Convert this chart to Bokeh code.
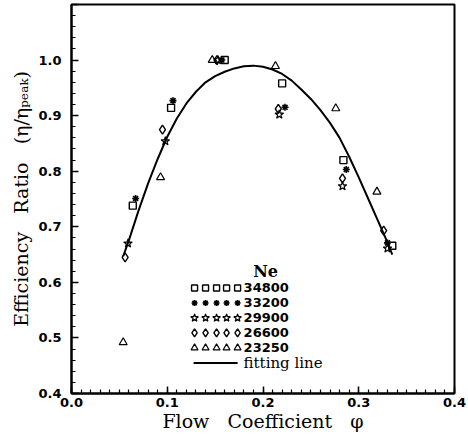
from bokeh.plotting import figure
from bokeh.models import Range1d, SingleIntervalTicker
from bokeh.core.properties import value
from bokeh.embed import file_html
from bokeh.resources import INLINE

# ---- data ----
ne_labels = ["34800", "33200", "29900", "26600", "23250"]
markers = ["square", "asterisk", "star", "diamond", "triangle"]

phi_34800 = [0.064, 0.104, 0.160, 0.220, 0.284, 0.335]
eff_34800 = [0.738, 0.914, 1.000, 0.958, 0.820, 0.666]
phi_33200 = [0.067, 0.106, 0.157, 0.223, 0.287, 0.330]
eff_33200 = [0.751, 0.927, 1.000, 0.915, 0.803, 0.671]
phi_29900 = [0.059, 0.098, 0.153, 0.217, 0.283, 0.330]
eff_29900 = [0.670, 0.854, 1.000, 0.902, 0.773, 0.661]
phi_26600 = [0.056, 0.095, 0.152, 0.216, 0.283, 0.326]
eff_26600 = [0.645, 0.875, 1.000, 0.912, 0.787, 0.693]
phi_23250 = [0.054, 0.093, 0.147, 0.213, 0.276, 0.319]
eff_23250 = [0.492, 0.789, 1.000, 0.989, 0.913, 0.763]

fit_phi = [0.054, 0.060, 0.070, 0.080, 0.090, 0.100, 0.110, 0.120, 0.130,
           0.140, 0.150, 0.160, 0.170, 0.180, 0.190, 0.200, 0.210, 0.220,
           0.230, 0.240, 0.250, 0.260, 0.270, 0.280, 0.290, 0.300, 0.310,
           0.320, 0.330, 0.335]
fit_eff = [0.647, 0.676, 0.729, 0.778, 0.822, 0.862, 0.895, 0.922, 0.943,
           0.960, 0.971, 0.979, 0.985, 0.989, 0.990, 0.988, 0.983, 0.975,
           0.963, 0.947, 0.930, 0.910, 0.887, 0.860, 0.826, 0.789, 0.750,
           0.711, 0.672, 0.650]

x_ticks = [0.0, 0.1, 0.2, 0.3, 0.4]
y_ticks = [0.4, 0.5, 0.6, 0.7, 0.8, 0.9, 1.0]

series_phi = [phi_34800, phi_33200, phi_29900, phi_26600, phi_23250]
series_eff = [eff_34800, eff_33200, eff_29900, eff_26600, eff_23250]

# ---- figure ----
p = figure(width=468, height=436, output_backend="svg", toolbar_location=None,
           x_range=Range1d(0.0, 0.4), y_range=Range1d(0.4, 1.1),
           min_border_left=71, min_border_right=14,
           min_border_top=4, min_border_bottom=43)
p.grid.visible = False
p.background_fill_color = "white"
p.border_fill_color = "white"
p.outline_line_color = "black"
p.outline_line_width = 2
p.outline_line_alpha = 1.0

sizes = {"square": 7, "asterisk": 7, "star": 9, "diamond": 9, "triangle": 8}
widths = {"square": 1.4, "asterisk": 1.6, "star": 1.2, "diamond": 1.4, "triangle": 1.2}

p.line(fit_phi, fit_eff, line_color="black", line_width=2, line_join="round")
for xs, ys, m in zip(series_phi, series_eff, markers):
    p.scatter(xs, ys, marker=m, size=sizes[m], fill_color=None,
              line_color="black", line_width=widths[m])

# axes
for ax in (p.xaxis[0], p.yaxis[0]):
    ax.axis_line_width = 2
    ax.axis_line_color = "black"
    ax.major_tick_in = 7
    ax.major_tick_out = 0
    ax.minor_tick_in = 4
    ax.minor_tick_out = 0
    ax.major_tick_line_width = 1.5
    ax.minor_tick_line_width = 1.2
    ax.major_label_text_font = "DejaVu Sans"
    ax.major_label_text_font_style = "bold"
    ax.major_label_text_font_size = "13px"
    ax.major_label_text_color = "black"
    ax.axis_label_text_font = "DejaVu Serif"
    ax.axis_label_text_font_style = "normal"
    ax.axis_label_text_font_size = "19px"
    ax.axis_label_text_color = "black"

p.xaxis.ticker = SingleIntervalTicker(interval=0.1, num_minor_ticks=10)
p.yaxis.ticker = SingleIntervalTicker(interval=0.1, num_minor_ticks=5)
overrides_x = {t: f"{t:.1f}" for t in x_ticks}
overrides_y = {t: f"{t:.1f}" for t in y_ticks}
overrides_y[1.1] = ""
overrides_y[1.1000000000000003] = ""
p.xaxis.major_label_overrides = overrides_x
p.yaxis.major_label_overrides = overrides_y
p.xaxis.major_label_standoff = 4
p.yaxis.major_label_standoff = 10
sp = "\u00a0\u00a0\u00a0"
p.xaxis.axis_label = "Flow" + sp + "Coefficient" + sp + "\u03c6"
p.yaxis.axis_label = "Efficiency" + sp + "Ratio" + sp + "(\u03b7/\u03b7\u209a\u2091\u2090\u2096)"
p.xaxis.axis_label_standoff = 0
p.yaxis.axis_label_standoff = 3

# ---- legend (drawn inside plot) ----
def px_to_x(px):
    return (px - 71) / 957.0

def py_to_y(py):
    return 1.0 - (py - 60) / 556.0

row_py = [288, 303, 318, 333, 348]
mark_px = [194, 205, 216, 226, 237]
text_x = px_to_x(243)
for lab, m, rpy in zip(ne_labels, markers, row_py):
    yy = py_to_y(rpy)
    p.scatter([px_to_x(v) for v in mark_px], [yy] * len(mark_px), marker=m,
              size=sizes[m] - 1, fill_color=None, line_color="black",
              line_width=widths[m])
    p.text([text_x], [yy], text=[lab], text_font=value("DejaVu Sans"),
           text_font_style="bold", text_font_size="13px",
           text_baseline="middle", text_align="left", text_color="black")

p.text([px_to_x(265)], [py_to_y(272)], text=["Ne"], text_font=value("DejaVu Serif"),
       text_font_style="bold", text_font_size="16px", text_baseline="middle",
       text_align="center", text_color="black")
ly = py_to_y(363)
p.line([px_to_x(193), px_to_x(237)], [ly, ly], line_color="black", line_width=2)
p.text([text_x], [ly], text=["fitting line"], text_font=value("DejaVu Serif"),
       text_font_size="15px", text_baseline="middle", text_align="left",
       text_color="black")

open("out.html", "w").write(file_html(p, INLINE))
